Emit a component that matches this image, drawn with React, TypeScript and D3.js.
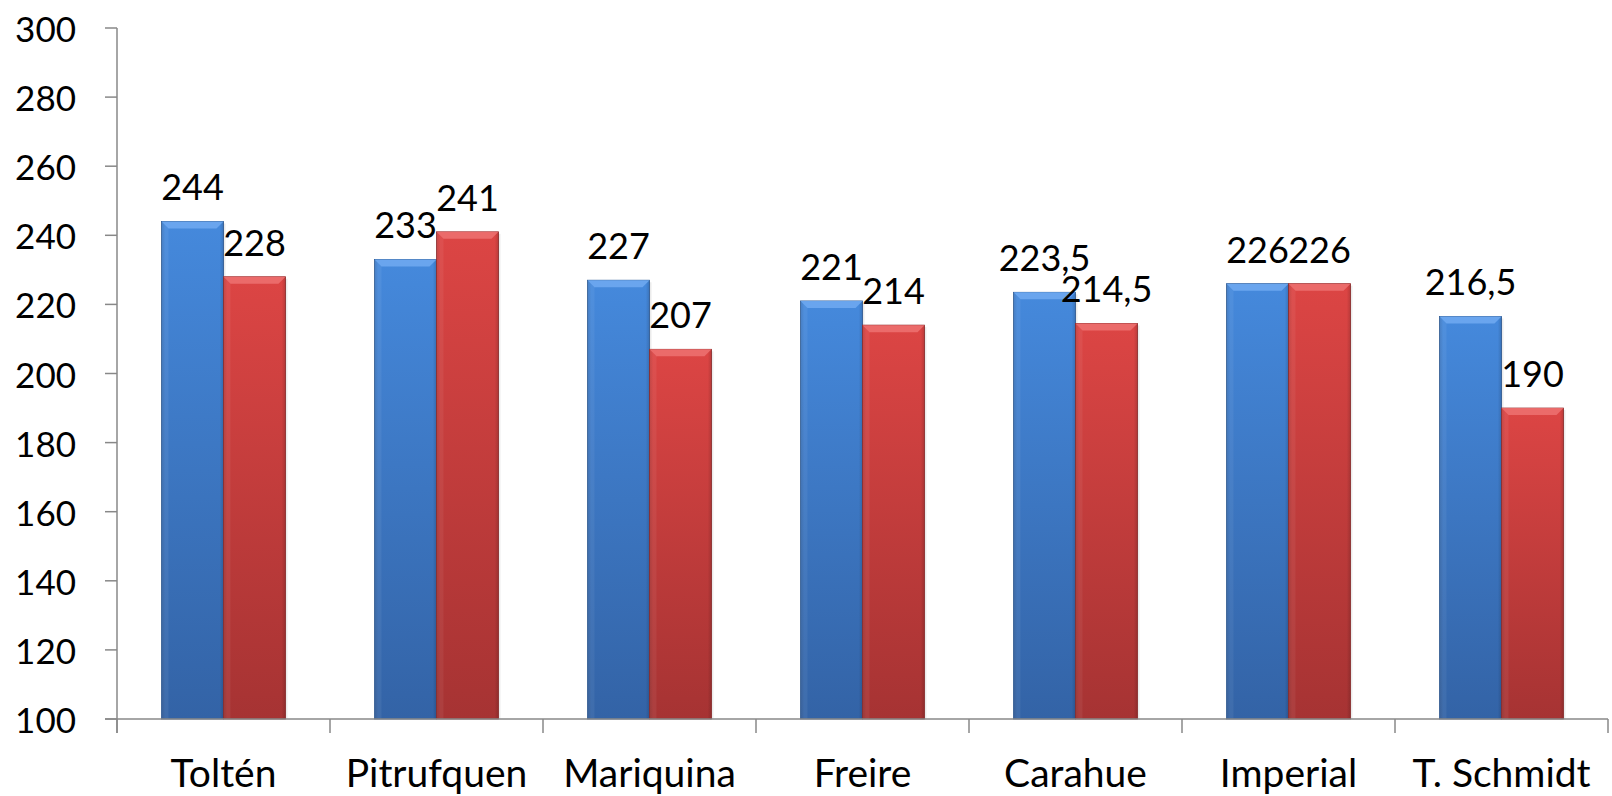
import React from "react";
import { scaleBand, scaleLinear, range } from "d3";

const categories = ["Toltén", "Pitrufquen", "Mariquina", "Freire", "Carahue", "Imperial", "T. Schmidt"];
const blueValues = [244, 233, 227, 221, 223.5, 226, 216.5];
const redValues = [228, 241, 207, 214, 214.5, 226, 190];
const yTicks = [100, 120, 140, 160, 180, 200, 220, 240, 260, 280, 300];

const W = 1612;
const H = 796;
const FONT = "Lato, 'Open Sans', sans-serif";

const fmt = (v: number) => String(v).replace(".", ",");

const series = [
  { key: "a", values: blueValues, light: "#6ea9ef", top: "#4589dc", bottom: "#3363a6", edge: "#2d5a96" },
  { key: "b", values: redValues, light: "#ec6f6f", top: "#dc4544", bottom: "#a63333", edge: "#8e2a2a" },
];

const App = () => {
  const x = scaleBand<string>().domain(categories).range([117, 1608]).paddingInner(0.418).paddingOuter(0.209);
  const step = x.step();
  const xs = scaleBand<string>().domain(series.map(s => s.key)).range([0, x.bandwidth()]);
  const y = scaleLinear().domain([100, 300]).range([719, 28]);
  const boundaries = range(categories.length + 1).map(i => 117 + i * step);

  return (
    <svg width={W} height={H} style={{ position: "absolute", left: 0, top: 0, background: "#fff" }}>
      <defs>
        {series.map(s => (
          <linearGradient key={s.key} id={`g-${s.key}`} x1="0" y1="0" x2="0" y2="1">
            <stop offset="0" stopColor={s.top} />
            <stop offset="1" stopColor={s.bottom} />
          </linearGradient>
        ))}
        <linearGradient id="side" x1="0" y1="0" x2="1" y2="0">
          <stop offset="0" stopColor="#000" stopOpacity={0.12} />
          <stop offset="0.06" stopColor="#000" stopOpacity={0} />
          <stop offset="0.94" stopColor="#000" stopOpacity={0} />
          <stop offset="1" stopColor="#000" stopOpacity={0.15} />
        </linearGradient>
      </defs>

      {/* y axis */}
      <line x1={117} x2={117} y1={y(300)} y2={733} stroke="#888" strokeWidth={1.5} />
      {yTicks.map(t => (
        <g key={t}>
          <line x1={105} x2={117} y1={y(t)} y2={y(t)} stroke="#888" strokeWidth={1.5} />
          <text x={76} y={y(t)} textAnchor="end" dominantBaseline="central" fontFamily={FONT} fontSize={35} fill="#000">
            {t}
          </text>
        </g>
      ))}

      {/* bars */}
      {categories.map((c, i) => (
        <g key={c} transform={`translate(${x(c)},0)`}>
          {series.map(s => {
            const v = s.values[i];
            const bx = xs(s.key)!;
            const bw = xs.bandwidth();
            const by = y(v);
            const bh = y(100) - by;
            const bev = 7;
            return (
              <g key={s.key}>
                <rect x={bx + 2} y={by + 2} width={bw} height={bh - 2} fill="#000" opacity={0.08} />
                <rect x={bx} y={by} width={bw} height={bh} fill={`url(#g-${s.key})`} stroke={s.edge} strokeWidth={0.8} />
                <rect x={bx} y={by} width={bw} height={bh} fill="url(#side)" />
                <path
                  d={`M${bx},${by} L${bx + bw},${by} L${bx + bw - bev},${by + bev} L${bx + bev},${by + bev} Z`}
                  fill={s.light}
                  opacity={0.9}
                />
                <path d={`M${bx},${by} L${bx + bev},${by + bev} L${bx + bev},${by + bh} L${bx},${by + bh} Z`} fill="#fff" opacity={0.06} />
              </g>
            );
          })}
        </g>
      ))}

      {/* x axis */}
      <line x1={105} x2={1608} y1={y(100)} y2={y(100)} stroke="#888" strokeWidth={1.5} />
      {boundaries.map((b, i) => (
        <line key={i} x1={b} x2={b} y1={y(100)} y2={733} stroke="#888" strokeWidth={1.5} />
      ))}
      {categories.map(c => (
        <text key={c} x={x(c)! + x.bandwidth() / 2} y={787} textAnchor="middle" fontFamily={FONT} fontSize={39} fill="#000">
          {c}
        </text>
      ))}

      {/* value labels */}
      {categories.map((c, i) =>
        series.map(s => (
          <text
            key={c + s.key}
            x={x(c)! + xs(s.key)! + xs.bandwidth() / 2}
            y={y(s.values[i]) - 21}
            textAnchor="middle"
            fontFamily={FONT}
            fontSize={36}
            fill="#000"
          >
            {fmt(s.values[i])}
          </text>
        ))
      )}
    </svg>
  );
};

export default App;
